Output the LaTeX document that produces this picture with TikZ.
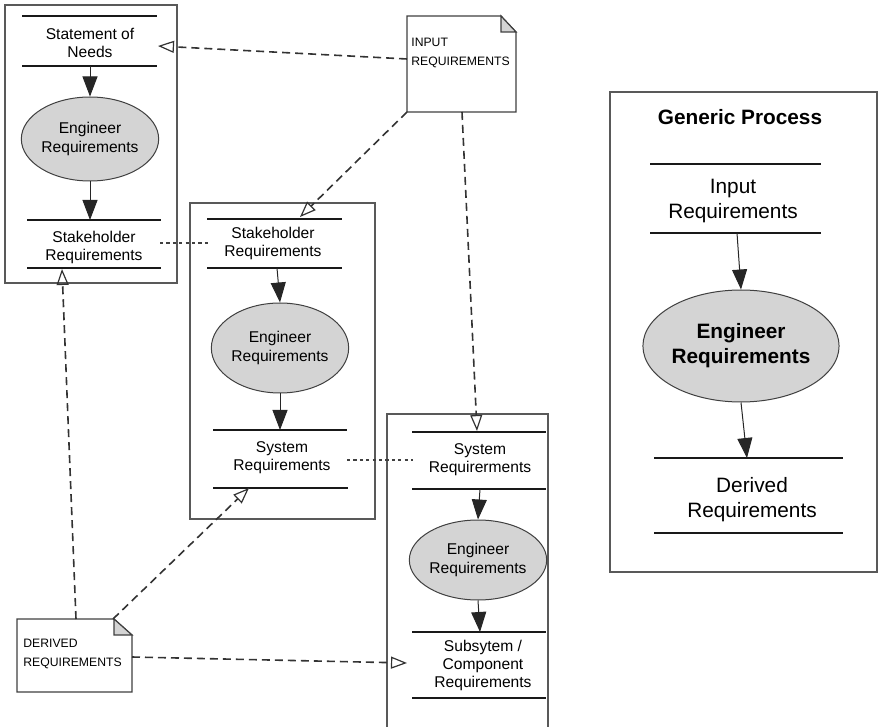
\documentclass[tikz,border=0pt]{standalone}
\usepackage{fontspec}
\setmainfont{Liberation Sans}
\usetikzlibrary{arrows.meta,shapes.geometric}

\begin{document}
\begin{tikzpicture}[x=0.5pt,y=-0.5pt,
  frame/.style={draw=black!65, line width=0.6pt},
  bar/.style={draw=black!90, line width=1.3pt},
  lbl/.style={font=\fontsize{7.8}{9}\selectfont, align=center, inner sep=0pt},
  glbl/.style={font=\fontsize{10.4}{12.5}\selectfont, align=center, inner sep=0pt},
  proc/.style={ellipse, draw=black!75, fill=black!17, line width=0.5pt, inner sep=0pt,
    align=center, font=\fontsize{7.8}{9.5}\selectfont},
  flow/.style={draw=black!85, line width=0.5pt, -{Triangle[length=10pt,width=7.5pt]}},
  trace/.style={draw=black!80, dash pattern=on 4pt off 2.5pt, line width=0.8pt,
    -{Triangle[open,length=8pt,width=6pt,line width=0.6pt]}},
  link/.style={draw=black!75, dash pattern=on 1.6pt off 1.6pt, line width=0.6pt},
  doc/.style={draw=black!75, line width=0.6pt, fill=white},
  fold/.style={draw=black!75, line width=0.6pt, fill=black!17},
  doclbl/.style={font=\fontsize{6.1}{9.5}\selectfont, align=left, inner sep=0pt, anchor=west},
]
\useasboundingbox (0,0) rectangle (879,727);

% ---------- Level 1: statement of needs ----------
\draw[frame] (5,5) rectangle (177,283);
\draw[bar] (22,16) -- (157,16);
\node[lbl] (sn) at (90,43) {Statement of\\Needs};
\draw[bar] (22,66) -- (157,66);
\coordinate (snout) at (90,66);
\coordinate (snin) at (158,46);
\node[proc, minimum width=64pt, minimum height=42pt] (e1) at (90,139) {Engineer\\Requirements};
\draw[bar] (27,220) -- (161,220);
\coordinate (sr1in) at (90,220);
\node[lbl] (sr1) at (94,247) {Stakeholder\\Requirements};
\draw[bar] (27,268) -- (161,268);
\coordinate (sr1bot) at (62,269);
\coordinate (sr1link) at (160,243);
\draw[flow] (snout) -- (e1.north);
\draw[flow] (e1.south) -- (sr1in);

% ---------- Level 2: stakeholder requirements ----------
\draw[frame] (190,203) rectangle (375,519);
\draw[bar] (207,219) -- (342,219);
\coordinate (sr2in) at (300,217);
\coordinate (sr2link) at (209,243);
\node[lbl] (sr2) at (273,243) {Stakeholder\\Requirements};
\draw[bar] (207,268) -- (342,268);
\coordinate (sr2out) at (277,268);
\node[proc, minimum width=65.5pt, minimum height=45pt] (e2) at (280,348) {Engineer\\Requirements};
\draw[bar] (213,430) -- (347,430);
\coordinate (sy2in) at (280,430);
\node[lbl] (sy2) at (282,457.5) {System\\Requirements};
\draw[bar] (213,488) -- (348,488);
\coordinate (sy2bot) at (249,488);
\coordinate (sy2link) at (347,460);
\draw[flow] (sr2out) -- (e2.north);
\draw[flow] (e2.south) -- (sy2in);

% ---------- Level 3: system requirements ----------
\draw[frame] (387,727) -- (387,414) -- (548,414) -- (548,727);
\draw[bar] (412,432) -- (546,432);
\coordinate (sy3in) at (477,431);
\coordinate (sy3link) at (413,460);
\node[lbl] (sy3) at (480,459.5) {System\\Requirerments};
\draw[bar] (412,489) -- (546,489);
\coordinate (sy3out) at (480,489);
\node[proc, minimum width=66pt, minimum height=40pt] (e3) at (478,560) {Engineer\\Requirements};
\draw[bar] (412,632) -- (546,632);
\coordinate (ssin) at (480,632);
\node[lbl] (ss) at (483,665) {Subsytem /\\Component\\Requirements};
\draw[bar] (412,698) -- (546,698);
\coordinate (ssleft) at (407,663);
\draw[flow] (sy3out) -- (e3.north);
\draw[flow] (e3.south) -- (ssin);

% ---------- Generic process ----------
\draw[frame] (610,92) rectangle (877,572);
\node[glbl, font=\fontsize{10.4}{12.5}\selectfont\bfseries] (gp) at (740,117) {Generic Process};
\draw[bar] (650,164) -- (821,164);
\node[glbl] (gin) at (733,201) {Input\\Requirements};
\draw[bar] (650,233) -- (821,233);
\coordinate (ginout) at (737,233);
\node[proc, minimum width=96pt, minimum height=56pt,
  font=\fontsize{10.4}{12.5}\selectfont\bfseries] (e4) at (741,346) {Engineer\\Requirements};
\draw[bar] (654,458) -- (843,458);
\coordinate (gdin) at (747,458);
\node[glbl] (gd) at (752,499.5) {Derived\\Requirements};
\draw[bar] (654,533) -- (843,533);
\draw[flow] (ginout) -- (e4.north);
\draw[flow] (e4.south) -- (gdin);

% ---------- Documents ----------
\draw[doc] (407,16) -- (501,16) -- (516,32) -- (516,112) -- (407,112) -- cycle;
\draw[fold] (501,16) -- (501,32) -- (516,32) -- cycle;
\node[doclbl] (inreq) at (411,52.5) {INPUT\\REQUIREMENTS};
\coordinate (inleft) at (407,59);
\coordinate (inbl) at (407,112);
\coordinate (inbot) at (462,112);

\draw[doc] (17,619) -- (114,619) -- (132,635) -- (132,692) -- (17,692) -- cycle;
\draw[fold] (114,619) -- (114,635) -- (132,635) -- cycle;
\node[doclbl] (dreq) at (23,654) {DERIVED\\REQUIREMENTS};
\coordinate (dtop) at (76,619);
\coordinate (dcorner) at (113,619);
\coordinate (dright) at (132,657);

% ---------- Traceability ----------
\draw[trace] (inleft) -- (snin);
\draw[trace] (inbl) -- (sr2in);
\draw[trace] (inbot) -- (sy3in);
\draw[trace] (dtop) -- (sr1bot);
\draw[trace] (dcorner) -- (sy2bot);
\draw[trace] (dright) -- (ssleft);
\draw[link] (sr1link) -- (sr2link);
\draw[link] (sy2link) -- (sy3link);
\end{tikzpicture}
\end{document}
